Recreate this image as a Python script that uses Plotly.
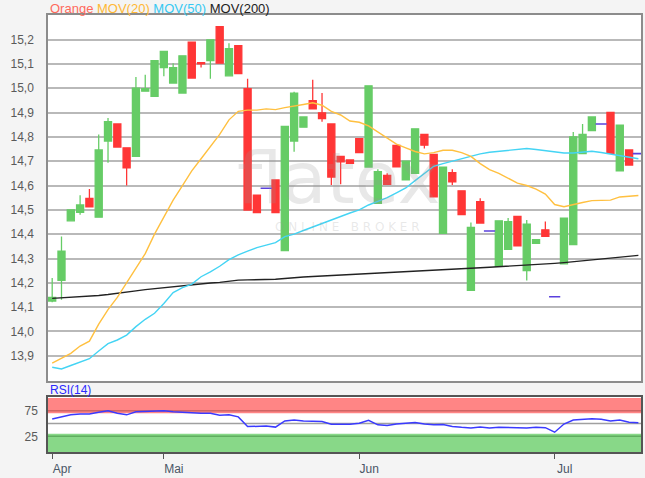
import plotly.graph_objects as go

# ---------------- data ----------------
month_labels = ["Apr", "Mai", "Jun", "Jul"]
month_pos = [0, 12, 33, 54]          # trading-day index of first day of month

open_ = [14.125, 14.21, 14.455, 14.49, 14.547, 14.47, 14.783, 14.853, 14.755, 14.72,
         14.988, 14.967, 15.085, 15.021, 14.98, 15.189, 15.105, 15.114, 15.253, 15.051,
         15.175, 14.998, 14.56, 14.589, 14.623, 14.332, 14.783, 14.84, 14.949, 14.899,
         14.853, 14.72, 14.705, 14.793, 14.676, 14.527, 14.642, 14.765, 14.623, 14.65,
         14.81, 14.728, 14.403, 14.653, 14.578, 14.169, 14.534, 14.413, 14.268, 14.338,
         14.473, 14.25, 14.362, 14.418, 14.143, 14.278, 14.357, 14.731, 14.826, 14.853,
         14.901, 14.66, 14.746, 14.731]
high = [14.22, 14.39, 14.50, 14.56, 14.586, 14.81, 14.878, 14.853, 14.755, 15.046,
        15.055, 15.113, 15.151, 15.103, 15.133, 15.189, 15.105, 15.199, 15.253, 15.185,
        15.175, 15.039, 14.56, 14.589, 14.623, 14.843, 14.985, 14.882, 15.035, 14.98,
        14.853, 14.72, 14.705, 14.793, 15.01, 14.667, 14.65, 14.765, 14.70, 14.833,
        14.81, 14.728, 14.676, 14.667, 14.578, 14.448, 14.548, 14.413, 14.455, 14.467,
        14.473, 14.458, 14.377, 14.452, 14.143, 14.466, 14.82, 14.853, 14.882, 14.853,
        14.901, 14.848, 14.746, 14.731]
low = [14.12, 14.13, 14.455, 14.48, 14.512, 14.47, 14.694, 14.758, 14.60, 14.72,
       14.988, 14.967, 15.049, 15.021, 14.98, 15.042, 15.085, 15.039, 15.103, 15.051,
       15.06, 14.499, 14.489, 14.589, 14.489, 14.332, 14.739, 14.84, 14.915, 14.862,
       14.602, 14.605, 14.691, 14.735, 14.676, 14.527, 14.605, 14.677, 14.623, 14.65,
       14.752, 14.553, 14.403, 14.602, 14.48, 14.169, 14.446, 14.413, 14.268, 14.338,
       14.352, 14.21, 14.362, 14.391, 14.143, 14.278, 14.357, 14.731, 14.826, 14.853,
       14.732, 14.66, 14.684, 14.731]
close = [14.14, 14.33, 14.50, 14.52, 14.512, 14.746, 14.863, 14.758, 14.673, 15.0,
         14.998, 15.113, 15.151, 15.085, 15.133, 15.042, 15.10, 15.199, 15.103, 15.163,
         15.06, 14.499, 14.489, 14.589, 14.489, 14.843, 14.98, 14.882, 14.915, 14.875,
         14.635, 14.697, 14.691, 14.735, 15.01, 14.657, 14.605, 14.677, 14.70, 14.833,
         14.766, 14.553, 14.676, 14.615, 14.48, 14.428, 14.446, 14.413, 14.455, 14.451,
         14.352, 14.441, 14.377, 14.391, 14.143, 14.466, 14.80, 14.81, 14.882, 14.853,
         14.732, 14.848, 14.684, 14.731]

mov20 = [13.87, 13.89, 13.91, 13.94, 13.96, 14.03, 14.09, 14.14, 14.20, 14.26,
         14.32, 14.40, 14.47, 14.54, 14.60, 14.66, 14.71, 14.76, 14.81, 14.87,
         14.905, 14.91, 14.91, 14.915, 14.912, 14.92, 14.925, 14.933, 14.94, 14.93,
         14.905, 14.89, 14.865, 14.86, 14.845, 14.82, 14.795, 14.77, 14.755, 14.74,
         14.73, 14.735, 14.745, 14.745, 14.735, 14.72, 14.69, 14.665, 14.65, 14.63,
         14.61, 14.60, 14.585, 14.565, 14.522, 14.513, 14.52, 14.53, 14.538, 14.538,
         14.54, 14.553, 14.556, 14.559]
mov50 = [13.853, 13.846, 13.86, 13.875, 13.888, 13.92, 13.95, 13.965, 13.985, 14.02,
         14.05, 14.075, 14.115, 14.16, 14.18, 14.195, 14.225, 14.245, 14.268, 14.295,
         14.315, 14.33, 14.345, 14.355, 14.365, 14.39, 14.40, 14.415, 14.43, 14.445,
         14.46, 14.475, 14.487, 14.50, 14.52, 14.535, 14.55, 14.57, 14.59, 14.62,
         14.65, 14.679, 14.69, 14.70, 14.712, 14.723, 14.73, 14.737, 14.741, 14.743,
         14.748, 14.752, 14.748, 14.743, 14.736, 14.734, 14.734, 14.737, 14.741, 14.736,
         14.73, 14.725, 14.718, 14.71]
mov200 = [14.136, 14.138, 14.14, 14.142, 14.145, 14.148, 14.152, 14.156, 14.162, 14.167,
          14.172, 14.176, 14.18, 14.185, 14.188, 14.191, 14.195, 14.199, 14.202, 14.207,
          14.211, 14.212, 14.212, 14.213, 14.215, 14.218, 14.222, 14.224, 14.226, 14.228,
          14.231, 14.234, 14.236, 14.238, 14.24, 14.242, 14.244, 14.245, 14.248, 14.251,
          14.253, 14.254, 14.255, 14.256, 14.258, 14.26, 14.262, 14.264, 14.266, 14.267,
          14.27, 14.272, 14.275, 14.278, 14.28, 14.283, 14.287, 14.291, 14.295, 14.299,
          14.302, 14.306, 14.31, 14.313]
rsi = [59, 63, 67, 68.5, 68.5, 72, 75, 70, 67, 73,
       74, 75, 75, 73, 72, 70, 70, 70, 66, 67,
       63, 44, 44, 45, 43, 55, 57, 55, 54.5, 54,
       48.5, 48.5, 48.5, 50.5, 56.5, 47.5, 46, 49, 50.5, 52,
       49, 47.5, 48, 44, 42.5, 41.5, 43, 41.5, 42.5, 42,
       41.5, 41.5, 42.5, 42, 33, 49, 57, 58, 59.5, 58.5,
       55, 57, 52.5, 51.5]

price_ticks = [13.9, 14.0, 14.1, 14.2, 14.3, 14.4, 14.5, 14.6, 14.7, 14.8, 14.9, 15.0, 15.1, 15.2]
rsi_ticks = [25, 75]

# ---------------- figure ----------------
idx = list(range(len(close)))
doji = [o == c for o, c in zip(open_, close)]
cx = [i for i in idx if not doji[i]]
dx = [i for i in idx if doji[i]]

GREEN = "#66cc66"
RED = "#ff3636"

fig = go.Figure()

fig.add_trace(go.Scatter(x=idx, y=mov200, mode="lines", line=dict(color="#222222", width=1.4),
                         xaxis="x", yaxis="y", hoverinfo="skip"))
fig.add_trace(go.Scatter(x=idx, y=mov50, mode="lines", line=dict(color="#44d4f4", width=1.4),
                         xaxis="x", yaxis="y", hoverinfo="skip"))
fig.add_trace(go.Scatter(x=idx, y=mov20, mode="lines", line=dict(color="#ffc040", width=1.4),
                         xaxis="x", yaxis="y", hoverinfo="skip"))

fig.add_trace(go.Candlestick(
    x=cx,
    open=[open_[i] for i in cx], high=[high[i] for i in cx],
    low=[low[i] for i in cx], close=[close[i] for i in cx],
    increasing=dict(line=dict(color=GREEN, width=1.3), fillcolor=GREEN),
    decreasing=dict(line=dict(color=RED, width=1.3), fillcolor=RED),
    whiskerwidth=0, xaxis="x", yaxis="y"))

fig.add_trace(go.Scatter(x=dx, y=[close[i] for i in dx], mode="markers",
                         marker=dict(symbol="line-ew", size=8,
                                     line=dict(color="#5a40dd", width=1.6)),
                         xaxis="x", yaxis="y", hoverinfo="skip"))

fig.add_trace(go.Scatter(x=idx, y=rsi, mode="lines", line=dict(color="#3a3aff", width=1.5),
                         xaxis="x2", yaxis="y2", hoverinfo="skip"))

# RSI bands and reference lines
shapes = [
    dict(type="rect", xref="x2 domain", yref="y2", x0=0, x1=1, y0=70, y1=100,
         fillcolor="#ff8585", line=dict(width=0), layer="below"),
    dict(type="rect", xref="x2 domain", yref="y2", x0=0, x1=1, y0=-6, y1=30,
         fillcolor="#88d888", line=dict(width=0), layer="below"),
    dict(type="line", xref="x2 domain", yref="y2", x0=0, x1=1, y0=75, y1=75,
         line=dict(color="#d06464", width=1.5), layer="below"),
    dict(type="line", xref="x2 domain", yref="y2", x0=0, x1=1, y0=50, y1=50,
         line=dict(color="#a0a0a0", width=1.5), layer="below"),
    dict(type="line", xref="x2 domain", yref="y2", x0=0, x1=1, y0=25, y1=25,
         line=dict(color="#5fae5f", width=1.5), layer="below"),
]

annotations = [
    dict(xref="paper", yref="paper", x=0, y=1, xanchor="left", yanchor="bottom", yshift=-3,
         showarrow=False, align="left",
         font=dict(family="Liberation Sans, Arial", size=13),
         text=("<span style='color:#ff6a5c'>Orange</span> "
               "<span style='color:#ffb836'>MOV(20)</span> "
               "<span style='color:#36c8f2'>MOV(50)</span> "
               "<span style='color:#222222'>MOV(200)</span>")),
    dict(xref="paper", yref="paper", x=0, y=0.1263, xanchor="left", yanchor="bottom", yshift=-2,
         showarrow=False, text="RSI(14)",
         font=dict(family="Liberation Sans, Arial", size=12, color="#2a2aff")),
    dict(xref="paper", yref="paper", x=0.49, y=0.628, xanchor="center", yanchor="middle",
         showarrow=False, text="flatex",
         font=dict(family="DejaVu Sans", size=72, color="rgba(150,150,150,0.22)")),
    dict(xref="paper", yref="paper", x=0.505, y=0.514, xanchor="center", yanchor="middle",
         showarrow=False, text="O N L I N E   B R O K E R",
         font=dict(family="DejaVu Sans", size=12, color="rgba(150,150,150,0.22)")),
]

font_lbl = dict(family="Liberation Sans, Arial", size=12, color="#5a5a5a")

fig.update_layout(
    width=645, height=478,
    margin=dict(l=48, r=2, t=15, b=25),
    paper_bgcolor="#f4f4f4", plot_bgcolor="#ffffff",
    showlegend=False,
    boxgap=0.2, boxgroupgap=0.05,
    shapes=shapes, annotations=annotations,
    xaxis=dict(domain=[0, 1], anchor="y", range=[-0.45, 63.28], showticklabels=False,
               showgrid=False, zeroline=False, rangeslider=dict(visible=False),
               showline=True, mirror=True, linecolor="#8c8c8c", linewidth=1.5, ticks=""),
    yaxis=dict(domain=[0.1628, 1], anchor="x", range=[13.797, 15.301],
               tickvals=price_ticks,
               ticktext=[f"{v:.1f}".replace(".", ",") for v in price_ticks],
               tickfont=font_lbl, ticklabelstandoff=10,
               showgrid=True, gridcolor="#b9b9b9", gridwidth=1.5, zeroline=False,
               showline=True, mirror=True, linecolor="#8c8c8c", linewidth=1.5, ticks=""),
    xaxis2=dict(domain=[0, 1], anchor="y2", matches="x", range=[-0.45, 63.28],
                tickvals=month_pos, ticktext=month_labels,
                tickfont=dict(family="Liberation Sans, Arial", size=12, color="#4a5666"),
                ticks="outside", ticklen=5, tickcolor="#555555", tickwidth=1.2,
                ticklabelshift=10,
                showgrid=False, zeroline=False,
                showline=True, mirror=True, linecolor="#555555", linewidth=1.5),
    yaxis2=dict(domain=[0, 0.1263], anchor="x2", range=[-5.7, 102.3],
                tickvals=rsi_ticks, ticktext=[str(v) for v in rsi_ticks],
                tickfont=font_lbl, ticklabelstandoff=6,
                showgrid=False, zeroline=False,
                showline=True, mirror=True, linecolor="#555555", linewidth=1.5, ticks=""),
)

fig.write_html("out.html",
               config={"displayModeBar": False},
               post_script="document.body.style.margin='0';"
                           "document.body.style.background='#f4f4f4';")
